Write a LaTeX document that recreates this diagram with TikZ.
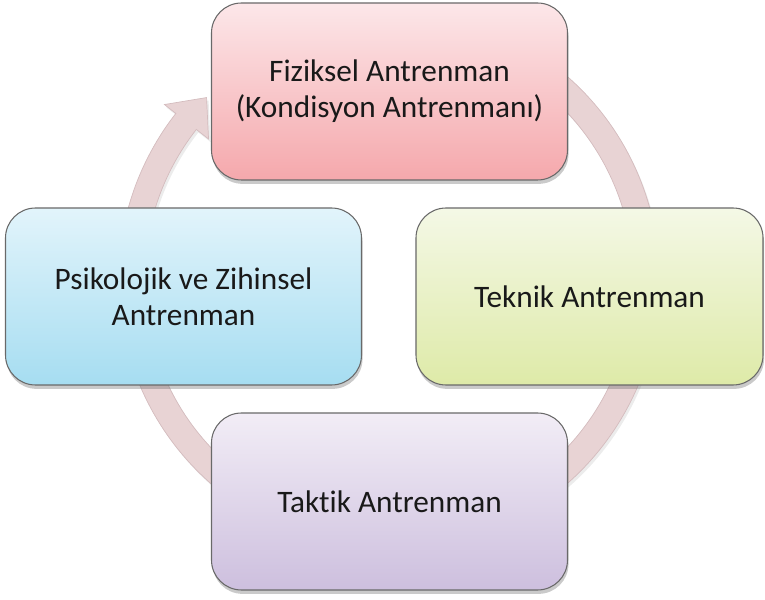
\documentclass[tikz,border=0pt]{standalone}
\usepackage{fontspec}
\setmainfont{Carlito}[Ligatures=NoCommon]
\usetikzlibrary{shadows}
\definecolor{ring}{RGB}{232,211,212}
\definecolor{ringline}{RGB}{212,188,190}
\definecolor{edge}{RGB}{105,105,105}
\definecolor{ink}{RGB}{25,25,25}
\definecolor{fizA}{RGB}{252,231,233}
\definecolor{fizB}{RGB}{245,168,172}
\definecolor{tekA}{RGB}{244,248,230}
\definecolor{tekB}{RGB}{222,234,168}
\definecolor{takA}{RGB}{242,237,246}
\definecolor{takB}{RGB}{205,191,222}
\definecolor{psiA}{RGB}{226,244,251}
\definecolor{psiB}{RGB}{166,221,241}

\begin{document}
\begin{tikzpicture}[font=\fontsize{17.8}{20.5}\selectfont,
  stage/.style={rounded corners=0.6cm, draw=edge, line width=0.6pt, align=center, text=ink,
    minimum width=7.12cm, minimum height=3.54cm, inner sep=0pt,
    drop shadow={shadow xshift=0.6pt, shadow yshift=-2.2pt, opacity=0.35, fill=black!60}},
  cyc/.style={fill=ring, draw=ringline, line width=0.4pt}]

\useasboundingbox (-7.78,-6.38) rectangle (7.52,5.6);

\coordinate (hub) at (0,0);

% cycle arrow behind the boxes
\fill[black!15, opacity=0.5, shift={(0.04,-0.06)}]
  (60:5.41) arc[start angle=60, end angle=-218, radius=5.41]
  -- (-218:5.70) -- (-225:5.16) -- (-218:4.58) -- (-218:4.89)
  arc[start angle=-218, end angle=60, radius=4.89] -- cycle;
\path[cyc] ([shift={(60:5.41)}]hub) arc[start angle=60, end angle=-218, radius=5.41]
  -- ([shift={(-218:5.70)}]hub) -- ([shift={(-225:5.16)}]hub) -- ([shift={(-218:4.58)}]hub)
  -- ([shift={(-218:4.89)}]hub) arc[start angle=-218, end angle=60, radius=4.89] -- cycle;

\node[stage, top color=fizA, bottom color=fizB] at (0.01,3.77) (fiz) {Fiziksel Antrenman\\(Kondisyon Antrenmanı)};
\node[stage, top color=tekA, bottom color=tekB, minimum width=6.94cm] at (4.01,-0.33) (tek) {Teknik Antrenman};
\node[stage, top color=takA, bottom color=takB] at (0.01,-4.43) (tak) {Taktik Antrenman};
\node[stage, top color=psiA, bottom color=psiB] at (-4.11,-0.33) (psi) {Psikolojik ve Zihinsel\\Antrenman};
\end{tikzpicture}
\end{document}
